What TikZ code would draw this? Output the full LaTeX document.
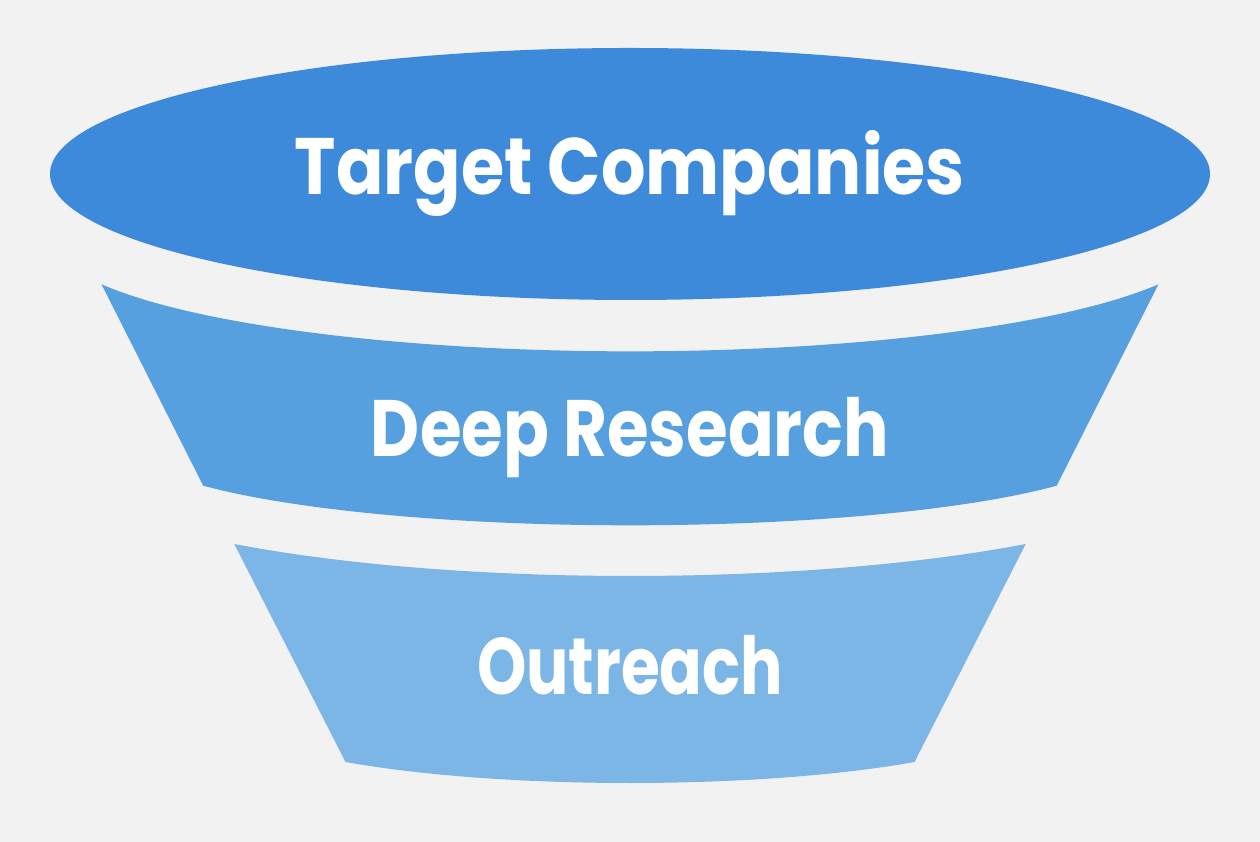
\documentclass[tikz,border=0pt]{standalone}
\usepackage{fontspec}
\usepackage{graphicx}
\setmainfont{Poppins}[UprightFont=* Bold]
\usetikzlibrary{shapes.geometric}
\definecolor{bgc}{RGB}{242,242,242}
\definecolor{topc}{RGB}{61,138,219}
\definecolor{midc}{RGB}{86,160,223}
\definecolor{lowc}{RGB}{123,182,230}
\tikzset{
  lbl/.style={text=white, anchor=base, inner sep=0pt, font=\fontsize{80}{80}\selectfont},
  band/.style={draw=none}
}
\begin{document}
\begin{tikzpicture}[x=1pt,y=1pt]
\fill[bgc] (0,0) rectangle (1260,842);
\useasboundingbox (0,0) rectangle (1260,842);
% top ellipse
\node[ellipse, fill=topc, minimum width=1160pt, minimum height=252pt, inner sep=0pt] (top) at (630,668) {};
% middle band
\fill[midc, band] (101.5,557.7) arc[start angle=204.33, end angle=335.67, x radius=580, y radius=114]
  -- (1056.7,356.3) arc[start angle=328.6, end angle=211.4, x radius=500, y radius=82.7] -- cycle;
% lower band
\fill[lowc, band] (234.3,298) arc[start angle=226.98, end angle=313.02, x radius=580, y radius=119]
  -- (914.5,80) arc[start angle=315.34, end angle=224.66, x radius=400, y radius=70.7] -- cycle;
\node[lbl] (t1) at (630,647) {\resizebox{670pt}{\height}{Target Companies}};
\node[lbl] (t2) at (630,385) {\resizebox{518pt}{\height}{Deep Research}};
\node[lbl] (t3) at (630,147) {\resizebox{306pt}{\height}{Outreach}};
\end{tikzpicture}
\end{document}
